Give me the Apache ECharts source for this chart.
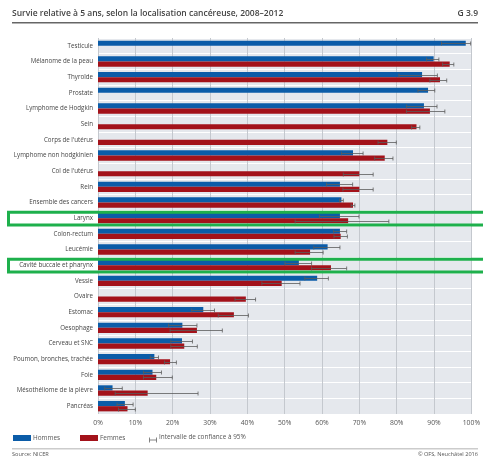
<!DOCTYPE html>
<html><head><meta charset="utf-8">
<script src="https://cdn.jsdelivr.net/npm/echarts@6/dist/echarts.min.js"></script>
<style>html,body{margin:0;padding:0;background:#fff}#c{width:483px;height:460px}</style>
</head><body><div id="c"></div>
<script>
var categories = ["Testicule","Mélanome de la peau","Thyroïde","Prostate","Lymphome de Hodgkin","Sein","Corps de l'utérus","Lymphome non hodgkinien","Col de l'utérus","Rein","Ensemble des cancers","Larynx","Colon-rectum","Leucémie","Cavité buccale et pharynx","Vessie","Ovaire","Estomac","Oesophage","Cerveau et SNC","Poumon, bronches, trachée","Foie","Mésothéliome de la plèvre","Pancréas"];
var hommes   = [98.5, 89.9, 86.8, 88.4, 87.3, null, null, 68.3, null, 64.8, 65.2, 64.8, 64.8, 61.5, 53.8, 58.7, null, 28.2, 22.6, 22.5, 15.1, 14.6, 3.9, 7.2];
var hommesLo = [92.0, 88.0, 80.6, 85.7, 82.6, null, null, 65.2, null, 61.2, 64.7, 59.3, 63.1, 57.8, 50.1, 55.4, null, 25.1, 18.9, 19.5, 14.0, 12.2, 1.8, 5.1];
var hommesHi = [99.8, 91.3, 90.9, 90.2, 90.8, null, null, 71.0, null, 68.2, 65.7, 69.9, 66.6, 64.8, 57.2, 61.7, null, 31.2, 26.5, 25.3, 16.2, 17.0, 6.5, 9.4];
var femmes   = [null, 94.2, 91.6, null, 88.9, 85.3, 77.5, 76.8, 70.0, 70.0, 68.3, 67.0, 65.0, 56.8, 62.4, 49.2, 39.6, 36.4, 26.5, 23.1, 19.3, 15.6, 13.3, 7.9];
var femmesLo = [null, 92.3, 88.9, null, 82.6, 84.0, 75.0, 74.1, 65.7, 65.6, 67.8, 52.8, 63.2, 52.8, 57.2, 43.9, 36.7, 32.2, 19.3, 19.5, 17.8, 12.2, 4.6, 5.5];
var femmesHi = [null, 95.3, 93.4, null, 92.9, 86.2, 79.9, 79.0, 73.7, 73.7, 68.8, 77.9, 66.8, 60.3, 66.6, 54.1, 42.2, 40.3, 33.3, 26.6, 21.0, 19.9, 26.8, 10.0];
var xTicks = [0, 10, 20, 30, 40, 50, 60, 70, 80, 90, 100];
var highlighted = ["Larynx", "Cavité buccale et pharynx"];

var BLUE = '#0b5ca8', RED = '#a3121a';
var BAR_W = 5.2;
var FONT = 'Open Sans';

var ciData = [];
categories.forEach(function (c, i) {
  if (hommesLo[i] != null) ciData.push([i, hommesLo[i], hommesHi[i], 0]);
  if (femmesLo[i] != null) ciData.push([i, femmesLo[i], femmesHi[i], 1]);
});

var chart = echarts.init(document.getElementById('c'), null, {renderer: 'canvas'});
var option = {
  animation: false,
  textStyle: {fontFamily: FONT},
  grid: {left: 98, right: 11, top: 38, bottom: 46, show: true, backgroundColor: '#e5e8ed', borderWidth: 0, containLabel: false},
  xAxis: {
    type: 'value', min: xTicks[0], max: xTicks[xTicks.length - 1], interval: xTicks[1] - xTicks[0],
    axisLine: {show: false}, axisTick: {show: false},
    splitLine: {show: true, lineStyle: {color: '#c4c8ce', width: 1}},
    axisLabel: {fontFamily: FONT, fontSize: 6.8, color: '#555', margin: 6, formatter: function (v) { return v + '%'; }}
  },
  yAxis: {
    type: 'category', data: categories, inverse: true,
    axisLine: {show: false}, axisTick: {show: false},
    splitLine: {show: true, lineStyle: {color: '#ffffff', width: 1}},
    axisLabel: {fontFamily: FONT, fontSize: 6.2, color: '#444', margin: 5}
  },
  legend: {
    left: 13, top: 435, padding: 0, itemWidth: 18, itemHeight: 6, itemGap: 20, icon: 'rect',
    textStyle: {fontFamily: FONT, fontSize: 6.4, color: '#555', padding: [0, 0, 0, -3]},
    data: ['Hommes', 'Femmes']
  },
  series: [
    {name: 'Hommes', type: 'bar', data: hommes, barWidth: BAR_W, barGap: '0%', itemStyle: {color: BLUE}},
    {name: 'Femmes', type: 'bar', data: femmes, barWidth: BAR_W, barGap: '0%', itemStyle: {color: RED}},
    {
      name: 'IC', type: 'custom', z: 5, data: ciData,
      encode: {x: [1, 2], y: 0},
      renderItem: function (params, api) {
        var cat = api.value(0), g = api.value(3);
        var p1 = api.coord([api.value(1), cat]);
        var p2 = api.coord([api.value(2), cat]);
        var off = (g === 0 ? -1 : 1) * BAR_W / 2;
        var y = Math.round(p1[1] + off) + 0.5;
        var h = 2;
        var st = {stroke: '#5c5c5c', lineWidth: 0.8};
        return {type: 'group', children: [
          {type: 'line', shape: {x1: p1[0], y1: y, x2: p2[0], y2: y}, style: st},
          {type: 'line', shape: {x1: p1[0], y1: y - h, x2: p1[0], y2: y + h}, style: st},
          {type: 'line', shape: {x1: p2[0], y1: y - h, x2: p2[0], y2: y + h}, style: st}
        ]};
      }
    }
  ],
  graphic: [
    {type: 'text', left: 12, top: 9.5, style: {text: 'Survie relative à 5 ans, selon la localisation cancéreuse, 2008–2012', fontFamily: FONT, fontSize: 8.5, fontWeight: 600, fill: '#444'}},
    {type: 'text', right: 5, top: 9.5, style: {text: 'G 3.9', fontFamily: FONT, fontSize: 8.5, fontWeight: 600, fill: '#444'}},
    {type: 'rect', shape: {x: 12, y: 22, width: 466, height: 1.6}, style: {fill: '#666'}},
    {type: 'group', left: 147, top: 435, children: [
      {type: 'line', shape: {x1: 0.5, y1: 3, x2: 7.5, y2: 3}, style: {stroke: '#666', lineWidth: 0.8}},
      {type: 'line', shape: {x1: 0.5, y1: 0.5, x2: 0.5, y2: 5.5}, style: {stroke: '#666', lineWidth: 0.8}},
      {type: 'line', shape: {x1: 7.5, y1: 0.5, x2: 7.5, y2: 5.5}, style: {stroke: '#666', lineWidth: 0.8}}
    ]},
    {type: 'text', left: 159, top: 434, style: {text: 'Intervalle de confiance à 95%', fontFamily: FONT, fontSize: 6.4, fill: '#555'}},
    {type: 'rect', shape: {x: 12, y: 448.5, width: 466, height: 0.8}, style: {fill: '#999'}},
    {type: 'text', left: 12, top: 451, style: {text: 'Source: NICER', fontFamily: FONT, fontSize: 5.6, fill: '#555'}},
    {type: 'text', right: 5, top: 451, style: {text: '© OFS, Neuchâtel 2016', fontFamily: FONT, fontSize: 5.6, fill: '#555'}}
  ]
};
chart.setOption(option);

var y0 = chart.convertToPixel({yAxisIndex: 0}, categories[0]);
var y1 = chart.convertToPixel({yAxisIndex: 0}, categories[1]);
var band = Math.abs(y1 - y0);
var boxes = highlighted.map(function (name, k) {
  var cy = chart.convertToPixel({yAxisIndex: 0}, name);
  return {type: 'rect', id: 'hl' + k, z: 100, shape: {x: 8.5, y: cy - band / 2 + 2, width: 478, height: band - 3}, style: {fill: 'none', stroke: '#1eb04c', lineWidth: 3}};
});
chart.setOption({graphic: boxes});
</script></body></html>
